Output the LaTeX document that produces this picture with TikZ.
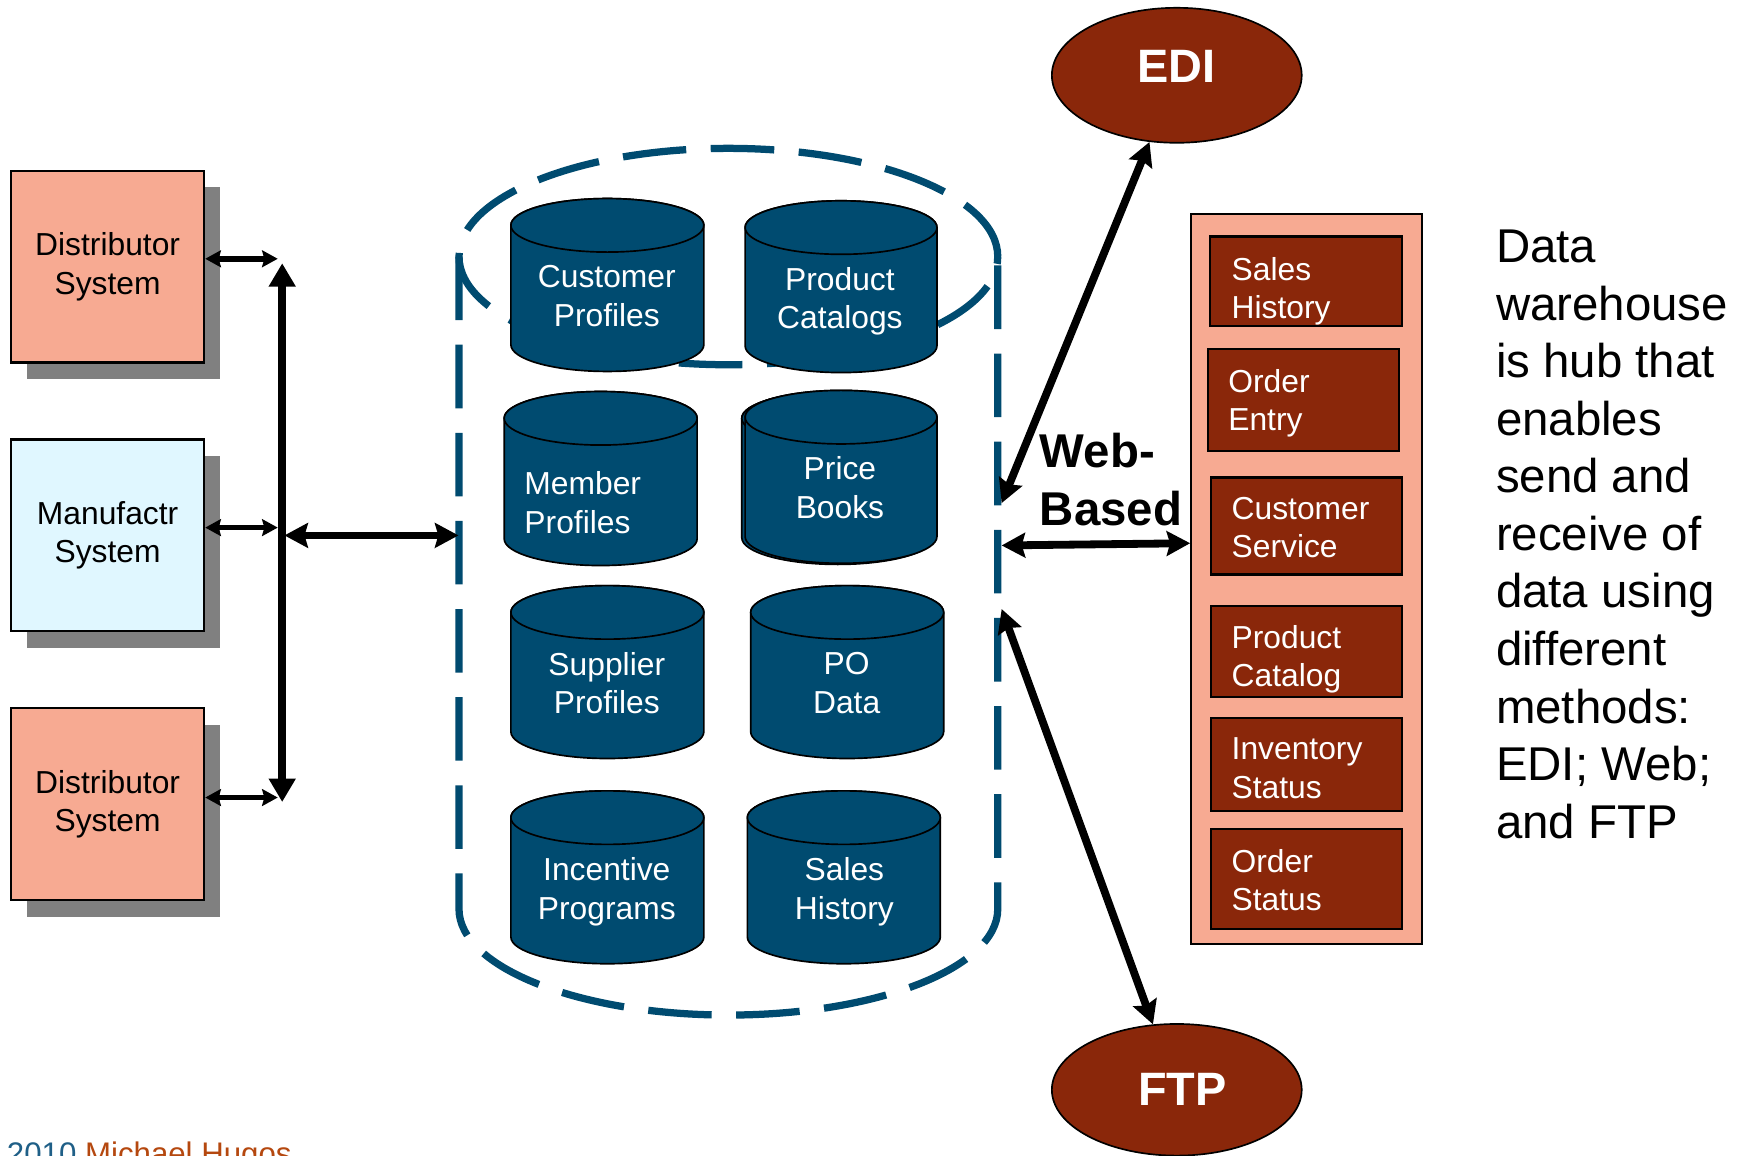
\documentclass[tikz,border=0pt]{standalone}
\usepackage{fontspec}
\setmainfont{Liberation Sans}
\usetikzlibrary{arrows.meta,shadows,shapes.geometric}

\definecolor{dbblue}{RGB}{0,75,112}
\definecolor{rust}{RGB}{138,39,10}
\definecolor{salmon}{RGB}{247,170,146}
\definecolor{paleblue}{RGB}{224,247,255}
\definecolor{shade}{RGB}{128,128,128}
\definecolor{credblue}{RGB}{31,95,135}
\definecolor{credorange}{RGB}{181,72,15}

% a database can: left x, top y, right x, bottom y (y grows downward)
\newcommand\dbcan[4]{%
  \pgfmathsetmacro\canrx{(#3-#1)/2}%
  \pgfmathsetmacro\cancx{(#1+#3)/2}%
  \filldraw[canbody] (#1,#2+24) -- (#1,#4-24)
     arc[start angle=180,end angle=360,x radius=\canrx pt,y radius=24pt]
     -- (#3,#2+24)
     arc[start angle=0,end angle=180,x radius=\canrx pt,y radius=24pt] -- cycle;
  \draw[canbody] (\cancx,#2+24) ellipse[x radius=\canrx pt,y radius=24pt];
}

\tikzset{
  sysbox/.style={draw=black, line width=2pt, minimum width=173pt, minimum height=172pt,
    inner sep=0pt, align=center, font=\fontsize{28.5}{34.5}\selectfont,
    drop shadow={shadow xshift=14pt, shadow yshift=-15pt, fill=shade, opacity=1}},
  canbody/.style={fill=dbblue, draw=black, line width=1.5pt},
  cantext/.style={text=white, inner sep=0pt, align=center, font=\fontsize{28.5}{34.5}\selectfont},
  whdash/.style={draw=dbblue, line width=6.5pt, dash pattern=on 57pt off 22pt},
  portal/.style={ellipse, draw=black, line width=1.5pt, fill=rust, text=white, inner sep=0pt,
    minimum width=224pt, font=\bfseries\fontsize{42}{50}\selectfont},
  funcbox/.style={rectangle, draw=black, line width=2pt, fill=rust, inner sep=0pt},
  functext/.style={anchor=west, text=white, inner sep=0pt, align=left,
    font=\fontsize{28.5}{34.5}\selectfont},
  link/.style={line width=5pt,
    {Stealth[length=14pt,width=15pt,inset=2pt]}-{Stealth[length=14pt,width=15pt,inset=2pt]}},
  bus/.style={line width=7.5pt,
    {Triangle[length=21pt,width=23pt]}-{Triangle[length=21pt,width=23pt]}},
  feed/.style={line width=7pt,
    {Stealth[length=21pt,width=22pt,inset=3pt]}-{Stealth[length=21pt,width=22pt,inset=3pt]}},
}

\begin{document}
\begin{tikzpicture}[x=1pt,y=-1pt]
\useasboundingbox (0,0) rectangle (1568,1036);
\clip (0,0) rectangle (1568,1036);
\fill[white] (0,0) rectangle (1568,1036);

% dashed warehouse drum
\draw[whdash] (653,230) ellipse[x radius=241.5pt, y radius=97pt];
\draw[whdash] (411.5,230) -- (411.5,815)
   arc[start angle=180,end angle=360,x radius=241.5pt,y radius=95pt] -- (894.5,230);

% data stores
\dbcan{458}{178}{631}{333}
\node[cantext] (cp) at (544,265.5) {Customer\\Profiles};
\dbcan{668}{180}{840}{334}
\node[cantext] (pc) at (753,270) {Product\\Catalogs};
\dbcan{452}{351}{625}{507}
\node[cantext, anchor=west, align=left] (mp) at (470,450.5) {Member\\Profiles};
\dbcan{665}{351}{837}{506}
\dbcan{668}{350}{840}{505}
\node[cantext] (pb) at (753,437) {Price\\Books};
\dbcan{458}{525}{631}{680}
\node[cantext] (sp) at (544,612.5) {Supplier\\Profiles};
\dbcan{673}{525}{846}{680}
\node[cantext] (po) at (759,612.5) {PO\\Data};
\dbcan{458}{709}{631}{864}
\node[cantext] (ip) at (544,799.5) {Incentive\\Programs};
\dbcan{670}{709}{843}{864}
\node[cantext] (sh) at (757,799.5) {Sales\\History};

% source systems
\node[sysbox, fill=salmon] (dist1) at (96.5,239) {Distributor\\System};
\node[sysbox, fill=paleblue] (manu) at (96.5,480) {Manufactr\\System};
\node[sysbox, fill=salmon] (dist2) at (96.5,721) {Distributor\\System};

\coordinate (c1) at (249,232);
\coordinate (c2) at (249,473);
\coordinate (c3) at (249,715);
\coordinate (busT) at (253,236);
\coordinate (busB) at (253,719);
\coordinate (busM) at (255,480);
\coordinate (whL) at (411,480);

\draw[link] ([yshift=7pt]dist1.east) -- (c1);
\draw[link] ([yshift=7pt]manu.east) -- (c2);
\draw[link] ([yshift=6pt]dist2.east) -- (c3);
\draw[bus] (busT) -- (busB);
\draw[feed, line width=6pt] (busM) -- (whL);

% delivery channels
\node[portal, minimum height=121pt, text depth=16pt] (edi) at (1055,67.5) {EDI};
\node[portal, minimum height=118pt] (ftp) at (1055,977) {\hspace*{10pt}FTP};

\node[rectangle, draw=black, line width=2pt, fill=salmon, minimum width=207pt,
      minimum height=654pt, inner sep=0pt] (panel) at (1171.5,519) {};

\node[funcbox, minimum width=172pt, minimum height=80pt] (f1) at (1171,252) {};
\node[functext] (f1t) at (1104,261) {Sales\\History};
\node[funcbox, minimum width=171pt, minimum height=91pt] (f2) at (1168.5,358.5) {};
\node[functext] (f2t) at (1101,361.5) {Order\\Entry};
\node[funcbox, minimum width=171pt, minimum height=87pt] (f3) at (1171.5,471.5) {};
\node[functext] (f3t) at (1104,473) {Customer\\Service};
\node[funcbox, minimum width=171pt, minimum height=82pt] (f4) at (1171.5,584) {};
\node[functext] (f4t) at (1104,591) {Product\\Catalog};
\node[funcbox, minimum width=171pt, minimum height=83pt] (f5) at (1171.5,685.5) {};
\node[functext] (f5t) at (1104,688.5) {Inventory\\Status};
\node[funcbox, minimum width=171pt, minimum height=90pt] (f6) at (1171.5,788) {};
\node[functext] (f6t) at (1104,789) {Order\\Status};

\coordinate (whR1) at (898,451);
\coordinate (whR2) at (898,489);
\coordinate (whR3) at (898,546);

\draw[feed] (whR1) -- (edi);
\draw[feed] (whR3) -- (ftp);
\draw[feed] (whR2) -- ([yshift=32pt]panel.west);

\node[anchor=west, inner sep=0pt, align=left, font=\bfseries\fontsize{42.5}{52}\selectfont]
   (web) at (932,430) {Web-\\Based};

\node[anchor=west, inner sep=0pt, align=left, font=\fontsize{42.5}{51.6}\selectfont]
   (note) at (1341,479) {Data\\warehouse\\is hub that\\enables\\send and\\receive of\\data using\\different\\methods:\\EDI; Web;\\and FTP};

\node[anchor=base west, inner sep=0pt, font=\fontsize{28}{32}\selectfont]
   (credit) at (6,1044) {\textcolor{credblue}{2010} \textcolor{credorange}{Michael Hugos}};
\end{tikzpicture}
\end{document}
